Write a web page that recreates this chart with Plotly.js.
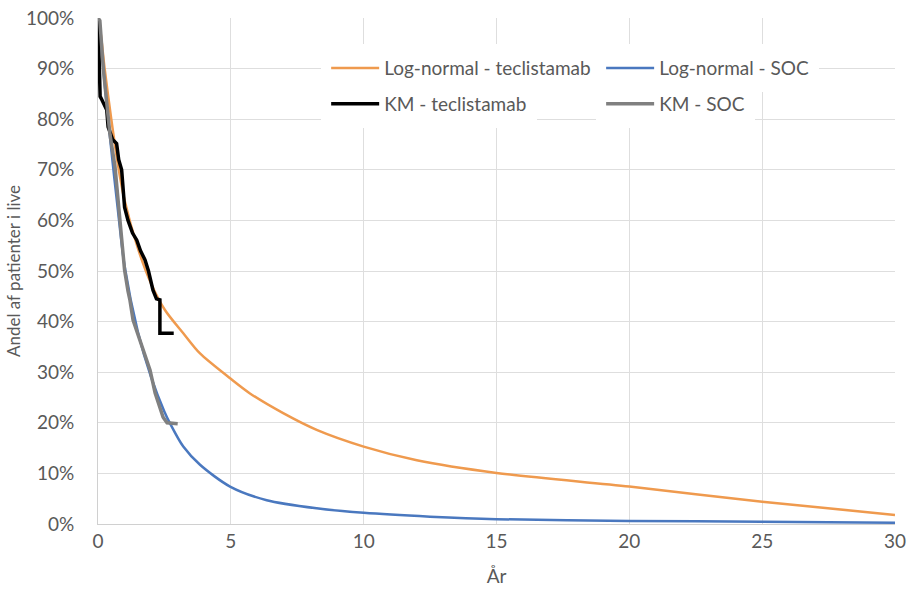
<!DOCTYPE html>
<html>
<head>
<meta charset="utf-8">
<script src="https://cdn.plot.ly/plotly-3.0.1.min.js"></script>
<style>html,body{margin:0;padding:0;background:#fff;}#chart{width:909px;height:601px;}</style>
</head>
<body>
<div id="chart"></div>
<script>
// Log-normal extrapolations (years, survival)
const lnTecT = [0, 0.1, 0.25, 0.5, 0.75, 1.0, 1.5, 2.0, 2.52, 3.21, 3.84, 4.97, 5.72, 6.97, 8.23, 10, 12, 15, 20, 25, 30];
const lnTecS = [1.0, 0.97, 0.9, 0.8, 0.71, 0.64, 0.545, 0.475, 0.423, 0.377, 0.337, 0.288, 0.258, 0.219, 0.186, 0.153, 0.126, 0.101, 0.074, 0.044, 0.018];

const lnSocT = [0, 0.1, 0.25, 0.5, 0.75, 1.0, 1.5, 2.0, 2.5, 2.71, 3.21, 3.84, 4.97, 6.35, 8.23, 10, 12.5, 15, 20, 25, 30];
const lnSocS = [1.0, 0.96, 0.87, 0.74, 0.62, 0.51, 0.38, 0.29, 0.222, 0.199, 0.153, 0.117, 0.074, 0.047, 0.031, 0.022, 0.0145, 0.0095, 0.006, 0.0046, 0.0026];

// Kaplan-Meier curves
const kmTecT = [0, 0.08, 0.15, 0.33, 0.38, 0.55, 0.7, 0.78, 0.89, 1.0, 1.13, 1.3, 1.46, 1.6, 1.77, 1.9, 2.07, 2.2, 2.33, 2.33, 2.85];
const kmTecS = [1.0, 0.845, 0.838, 0.818, 0.785, 0.76, 0.752, 0.72, 0.70, 0.626, 0.60, 0.575, 0.561, 0.54, 0.522, 0.50, 0.462, 0.445, 0.443, 0.377, 0.377];

const kmSocT = [0, 0.07, 0.2, 0.45, 0.64, 0.83, 1.0, 1.13, 1.2, 1.32, 1.58, 1.96, 2.15, 2.45, 2.6, 3.0];
const kmSocS = [1.0, 0.995, 0.90, 0.77, 0.706, 0.607, 0.502, 0.46, 0.443, 0.403, 0.364, 0.304, 0.259, 0.211, 0.20, 0.198];

const names = ["Log-normal - teclistamab", "Log-normal - SOC", "KM - teclistamab", "KM - SOC"];
const colors = ["#ef9a4e", "#4a78bf", "#000000", "#808080"];

const FONT = "Lato, 'Open Sans', sans-serif";
const GRAY = "#595959";

const traces = [
  {x: lnTecT, y: lnTecS, name: names[0], mode: "lines", line: {color: colors[0], width: 2.5, shape: "spline", smoothing: 0.8}, legend: "legend"},
  {x: lnSocT, y: lnSocS, name: names[1], mode: "lines", line: {color: colors[1], width: 2.5, shape: "spline", smoothing: 0.8}, legend: "legend2"},
  {x: kmTecT, y: kmTecS, name: names[2], mode: "lines", line: {color: colors[2], width: 3.5}, legend: "legend3"},
  {x: kmSocT, y: kmSocS, name: names[3], mode: "lines", line: {color: colors[3], width: 3.5}, legend: "legend4"}
];

function leg(x, y) {
  return {
    x: x, y: y, xanchor: "left", yanchor: "middle",
    bgcolor: "#ffffff", bordercolor: "#ffffff", borderwidth: 5,
    font: {family: FONT, size: 19, color: GRAY},
    itemwidth: 48,
    itemclick: false, itemdoubleclick: false
  };
}

const layout = {
  width: 909, height: 601,
  margin: {l: 98, r: 14, t: 18, b: 77},
  paper_bgcolor: "#ffffff", plot_bgcolor: "#ffffff",
  showlegend: true,
  legend: leg(0.280, 0.901),
  legend2: leg(0.625, 0.901),
  legend3: leg(0.280, 0.830),
  legend4: leg(0.625, 0.830),
  xaxis: {
    range: [0, 30], tickvals: [0, 5, 10, 15, 20, 25, 30],
    showgrid: true, gridcolor: "#dedede", gridwidth: 1,
    zeroline: false, showline: true, linecolor: "#d0d0d0", linewidth: 1,
    ticks: "",
    tickfont: {family: FONT, size: 19, color: GRAY},
    title: {text: "År", font: {family: FONT, size: 19, color: GRAY}, standoff: 18}
  },
  yaxis: {
    range: [0, 1], tickvals: [0, 0.1, 0.2, 0.3, 0.4, 0.5, 0.6, 0.7, 0.8, 0.9, 1.0], tickformat: ".0%",
    showgrid: true, gridcolor: "#dedede", gridwidth: 1,
    zeroline: false, showline: true, linecolor: "#d0d0d0", linewidth: 1,
    ticks: "outside", ticklen: 19, tickcolor: "rgba(0,0,0,0)",
    tickfont: {family: FONT, size: 19, color: GRAY},
    title: {text: "Andel af patienter i live", font: {family: FONT, size: 17, color: GRAY}, standoff: 0}
  }
};

Plotly.newPlot("chart", traces, layout, {displayModeBar: false, staticPlot: true});
</script>
</body>
</html>
